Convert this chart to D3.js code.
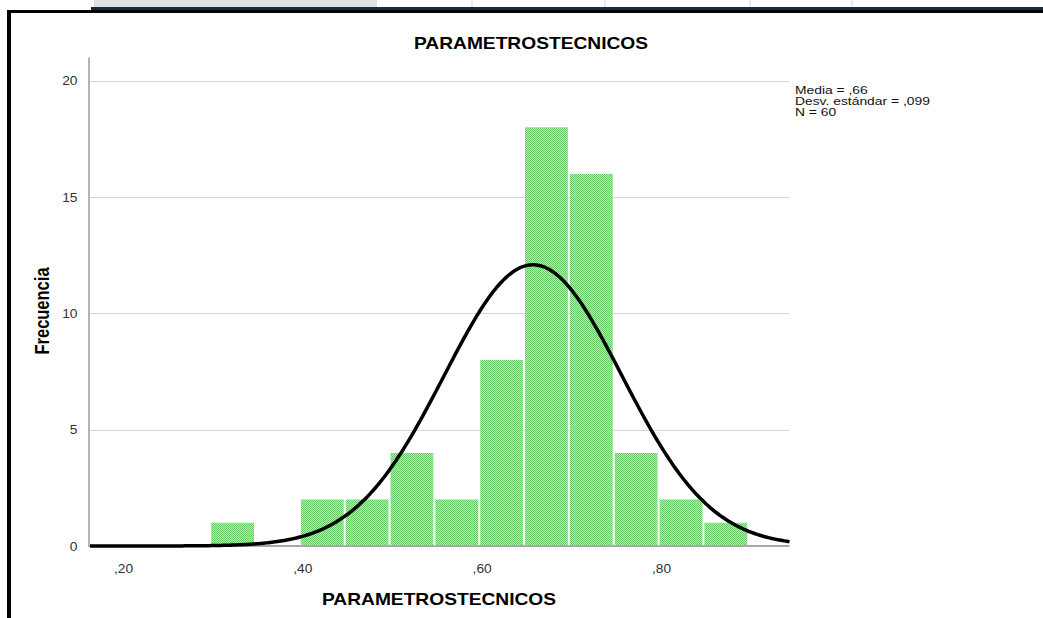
<!DOCTYPE html>
<html>
<head>
<meta charset="utf-8">
<script src="https://cdn.jsdelivr.net/npm/d3@7"></script>
<style>
html,body{margin:0;padding:0;background:#fff;}
svg{display:block;}
</style>
</head>
<body>
<svg id="chart" width="1043" height="618"></svg>
<script>
// ---- data ----
const binStarts = [0.30, 0.35, 0.40, 0.45, 0.50, 0.55, 0.60, 0.65, 0.70, 0.75, 0.80, 0.85];
const counts    = [1,    0,    2,    2,    4,    2,    8,    18,   16,   4,    2,    1];
const binWidth = 0.05;
const xTicks = [0.2, 0.4, 0.6, 0.8];
const xTickLabels = [",20", ",40", ",60", ",80"];
const yTicks = [0, 5, 10, 15, 20];
const statLines = ["Media = ,66", "Desv. estándar = ,099", "N = 60"];
const meanVal = 0.66, sdVal = 0.099, nVal = 60;
const titleText = "PARAMETROSTECNICOS";
const xTitle = "PARAMETROSTECNICOS";
const yTitle = "Frecuencia";

// ---- layout ----
const svg = d3.select("#chart");
const x = d3.scaleLinear().domain([0.166, 0.946]).range([90, 789.5]);
const y = d3.scaleLinear().domain([0, 21]).range([546, 57.5]);

// decorative top strip (table remnant)
svg.append("rect").attr("x", 94).attr("y", 0).attr("width", 283).attr("height", 7).attr("fill", "#e1e1e1");
[472, 605, 750, 852].forEach(v => svg.append("line").attr("x1", v).attr("x2", v).attr("y1", 0).attr("y2", 7)
   .attr("stroke", "#d4d4d4").attr("stroke-width", 1));
svg.append("rect").attr("x", 91).attr("y", 7).attr("width", 952).attr("height", 3).attr("fill", "#1c2b38");
// frame
svg.append("line").attr("x1", 7).attr("x2", 1043).attr("y1", 11.5).attr("y2", 11.5).attr("stroke", "#000").attr("stroke-width", 3);
svg.append("line").attr("x1", 9).attr("x2", 9).attr("y1", 10).attr("y2", 618).attr("stroke", "#000").attr("stroke-width", 4);

// pattern
const defs = svg.append("defs");
const pat = defs.append("pattern").attr("id", "chk").attr("patternUnits", "userSpaceOnUse")
  .attr("width", 2).attr("height", 2);
pat.append("rect").attr("width", 2).attr("height", 2).attr("fill", "#a8f4a8");
pat.append("rect").attr("x", 0).attr("y", 0).attr("width", 1).attr("height", 1).attr("fill", "#66cc66");
pat.append("rect").attr("x", 1).attr("y", 1).attr("width", 1).attr("height", 1).attr("fill", "#66cc66");

// gridlines
svg.append("g").selectAll("line").data(yTicks.filter(d => d > 0)).join("line")
  .attr("x1", x.range()[0]).attr("x2", x.range()[1])
  .attr("y1", d => Math.round(y(d)) + 0.5).attr("y2", d => Math.round(y(d)) + 0.5)
  .attr("stroke", "#d6d6d6").attr("stroke-width", 1);

// bars
const bars = binStarts.map((b, i) => ({x0: b, x1: b + binWidth, c: counts[i]})).filter(d => d.c > 0);
svg.append("g").selectAll("rect").data(bars).join("rect")
  .attr("x", d => x(d.x0) + 1)
  .attr("width", d => x(d.x1) - x(d.x0) - 2)
  .attr("y", d => y(d.c))
  .attr("height", d => y(0) - y(d.c))
  .attr("fill", "url(#chk)");

// axes
svg.append("line").attr("x1", 89).attr("x2", 89).attr("y1", y.range()[1]).attr("y2", y(0) + 1)
  .attr("stroke", "#b4b4b4").attr("stroke-width", 2);
svg.append("line").attr("x1", 89).attr("x2", x.range()[1]).attr("y1", y(0)).attr("y2", y(0))
  .attr("stroke", "#a8a8a8").attr("stroke-width", 2);

// normal curve
const scaleFactor = nVal * binWidth / (sdVal * Math.sqrt(2 * Math.PI));
const pts = d3.range(0, 401).map(i => {
  const v = x.domain()[0] + (x.domain()[1] - x.domain()[0]) * i / 400;
  const z = (v - meanVal) / sdVal;
  return [v, scaleFactor * Math.exp(-0.5 * z * z)];
});
svg.append("path").datum(pts)
  .attr("d", d3.line().x(d => x(d[0])).y(d => y(d[1])).curve(d3.curveBasis))
  .attr("fill", "none").attr("stroke", "#000").attr("stroke-width", 3.5);

const FONT = "Liberation Sans, Arial, sans-serif";
function stext(px, py, txt, opts) {
  return svg.append("text")
    .attr("transform", `translate(${px},${py}) scale(${opts.sx},1)`)
    .attr("font-family", FONT)
    .attr("font-size", opts.size)
    .attr("font-weight", opts.weight || "normal")
    .attr("fill", opts.fill || "#000")
    .attr("text-anchor", opts.anchor || "start")
    .text(txt);
}

// y tick labels
yTicks.forEach(d => stext(77.5, y(d) + 4.5, String(d), {size: 12, sx: 1.15, anchor: "end", fill: "#333"}));
// x tick labels
xTicks.forEach((d, i) => stext(x(d) + 3, 572.5, xTickLabels[i], {size: 12, sx: 1.15, anchor: "middle", fill: "#333"}));

// titles
stext(531, 48.5, titleText, {size: 16, sx: 1.2, weight: "bold", anchor: "middle"});
stext(439, 604.5, xTitle, {size: 16, sx: 1.2, weight: "bold", anchor: "middle"});
svg.append("text")
  .attr("transform", `translate(48.5,311) rotate(-90) scale(1,1.2)`)
  .attr("font-family", FONT).attr("font-size", 16.5).attr("font-weight", "bold")
  .attr("text-anchor", "middle").attr("fill", "#000").text(yTitle);

// stats legend
statLines.forEach((s, i) => stext(795, 94 + i * 11.2, s, {size: 11, sx: 1.26, fill: "#111"}));
</script>
</body>
</html>
